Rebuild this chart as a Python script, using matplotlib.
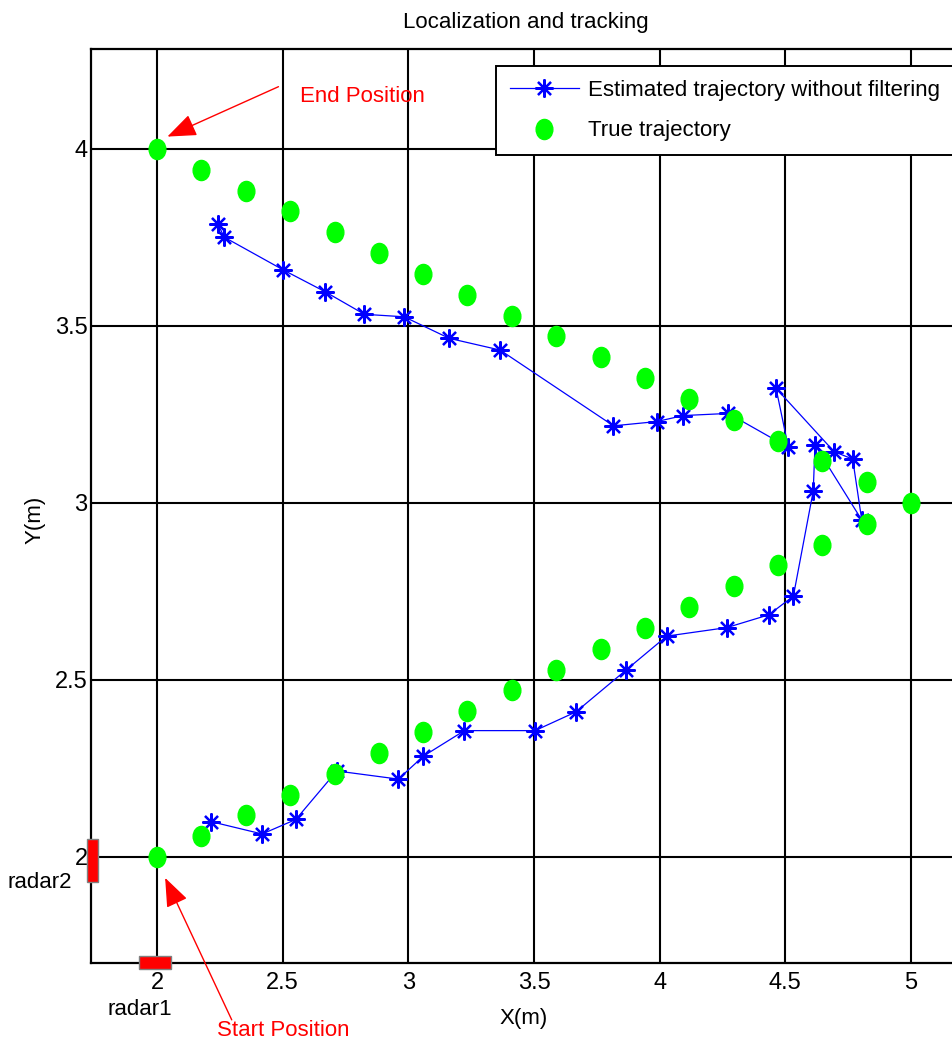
import matplotlib
matplotlib.use("Agg")
import matplotlib.pyplot as plt
from matplotlib.path import Path
from matplotlib.transforms import Affine2D
from matplotlib.patches import Rectangle

plt.rcParams['font.family'] = ['Liberation Sans', 'DejaVu Sans']

# Estimated positions (no filtering), in travel order
est_x = [2.214, 2.418, 2.552, 2.715, 2.960, 3.060, 3.223, 3.504, 3.667, 3.866,
         4.028, 4.267, 4.434, 4.532, 4.611, 4.618, 4.804, 4.768, 4.694, 4.463,
         4.512, 4.273, 4.094, 3.988, 3.816, 3.365, 3.163, 2.983, 2.825, 2.668,
         2.503, 2.267, 2.242]
est_y = [2.100, 2.065, 2.106, 2.243, 2.220, 2.285, 2.357, 2.357, 2.410, 2.528,
         2.624, 2.648, 2.684, 2.737, 3.034, 3.164, 2.952, 3.124, 3.145, 3.324,
         3.157, 3.253, 3.247, 3.230, 3.218, 3.432, 3.465, 3.526, 3.533, 3.597,
         3.658, 3.751, 3.788]

# True target positions
true_x = [2.0, 2.176, 2.353, 2.529, 2.706, 2.882, 3.059, 3.235, 3.412, 3.588,
          3.765, 3.941, 4.118, 4.294, 4.471, 4.647, 4.824, 5.0, 4.824, 4.647,
          4.471, 4.294, 4.118, 3.941, 3.765, 3.588, 3.412, 3.235, 3.059, 2.882,
          2.706, 2.529, 2.353, 2.176, 2.0]
true_y = [2.0, 2.059, 2.118, 2.176, 2.235, 2.294, 2.353, 2.412, 2.471, 2.529,
          2.588, 2.647, 2.706, 2.765, 2.824, 2.882, 2.941, 3.0, 3.059, 3.118,
          3.176, 3.235, 3.294, 3.353, 3.412, 3.471, 3.529, 3.588, 3.647, 3.706,
          3.765, 3.824, 3.882, 3.941, 4.0]

# Radar sensor locations
radar_names = ['radar1', 'radar2']
radar_x = [1.992, 1.743]
radar_y = [1.702, 1.990]

x_ticks = [2, 2.5, 3, 3.5, 4, 4.5, 5]
x_tick_labels = ['2', '2.5', '3', '3.5', '4', '4.5', '5']
y_ticks = [2, 2.5, 3, 3.5, 4]
y_tick_labels = ['2', '2.5', '3', '3.5', '4']

start_pos = (true_x[0], true_y[0])
end_pos = (true_x[-1], true_y[-1])

W, H = 953, 1047
fig = plt.figure(figsize=(W / 100, H / 100), dpi=100)
ax_l, ax_r, ax_b, ax_t = 91, 960, 962.7, 49.3
ax = fig.add_axes([ax_l / W, 1 - ax_b / H, (ax_r - ax_l) / W, (ax_b - ax_t) / H])

ax.set_xlim(1.737, 5.195)
ax.set_ylim(1.7014, 4.2816)

ax.set_xticks(x_ticks, x_tick_labels)
ax.set_yticks(y_ticks, y_tick_labels)
ax.tick_params(axis='both', length=0, labelsize=17, colors='black')
ax.tick_params(axis='x', pad=7)
ax.tick_params(axis='y', pad=2.5)
ax.grid(True, color='black', linewidth=1.5, linestyle='-')
ax.set_axisbelow(True)
for side in ['left', 'bottom', 'top']:
    ax.spines[side].set_linewidth(1.6)
    ax.spines[side].set_color('black')
ax.spines['right'].set_visible(False)

# Asterisk and slightly tall ellipse markers
star = (8, 2, 0)
ellipse = Path.unit_circle().transformed(Affine2D().scale(0.83, 1.0))

ax.plot(est_x, est_y, color='#0000FF', linewidth=0.9, marker=star,
        markersize=13, markeredgewidth=1.6, markeredgecolor='#0000FF',
        label='Estimated trajectory without filtering', zorder=3)
ax.plot(true_x, true_y, linestyle='none', marker=ellipse, markersize=14.5,
        markerfacecolor='#00FF00', markeredgecolor='#00FF00',
        label='True trajectory', zorder=4)

# Radar boxes
radar_w = [0.128, 0.044]
radar_h = [0.037, 0.124]
for rx, ry, w, h in zip(radar_x, radar_y, radar_w, radar_h):
    ax.add_patch(Rectangle((rx - w / 2, ry - h / 2), w, h, facecolor='#FF0000',
                           edgecolor='#808080', linewidth=1.0, clip_on=False,
                           zorder=5))
ax.text(1.932, 1.568, radar_names[0], fontsize=16, ha='center', va='center',
        clip_on=False)
ax.text(1.534, 1.927, radar_names[1], fontsize=16, ha='center', va='center',
        clip_on=False)

# Start / end annotations
arrow = dict(arrowstyle='-|>,head_length=0.9,head_width=0.35', color='#FF0000',
             linewidth=1.0, mutation_scale=20, shrinkA=0, shrinkB=0)
ax.annotate('', xy=(end_pos[0] + 0.041, end_pos[1] + 0.035), xytext=(2.483, 4.176),
            arrowprops=arrow, annotation_clip=False)
ax.text(2.569, 4.147, 'End Position', color='#FF0000', fontsize=16,
        ha='left', va='center')
ax.annotate('', xy=(start_pos[0] + 0.032, start_pos[1] - 0.059), xytext=(2.297, 1.540),
            arrowprops=arrow, annotation_clip=False)
ax.text(2.239, 1.511, 'Start Position', color='#FF0000', fontsize=16,
        ha='left', va='center', clip_on=False)

ax.set_title('Localization and tracking', fontsize=16, pad=15)
ax.set_xlabel('X(m)', fontsize=16)
ax.xaxis.set_label_coords((524 - ax_l) / (ax_r - ax_l), (ax_b - 1008) / (ax_b - ax_t))
ax.set_ylabel('Y(m)', fontsize=16)
ax.yaxis.set_label_coords((46 - ax_l) / (ax_r - ax_l), (ax_b - 520) / (ax_b - ax_t))

leg = ax.legend(loc='upper left', bbox_to_anchor=(496 / W, 1 - 66 / H),
                bbox_transform=fig.transFigure, fontsize=16, handlelength=3.1,
                handletextpad=0.4, borderpad=0.62, labelspacing=0.88,
                borderaxespad=0, fancybox=False, framealpha=1,
                edgecolor='black')
leg.get_frame().set_linewidth(1.4)

fig.savefig('out.png', dpi=100)
